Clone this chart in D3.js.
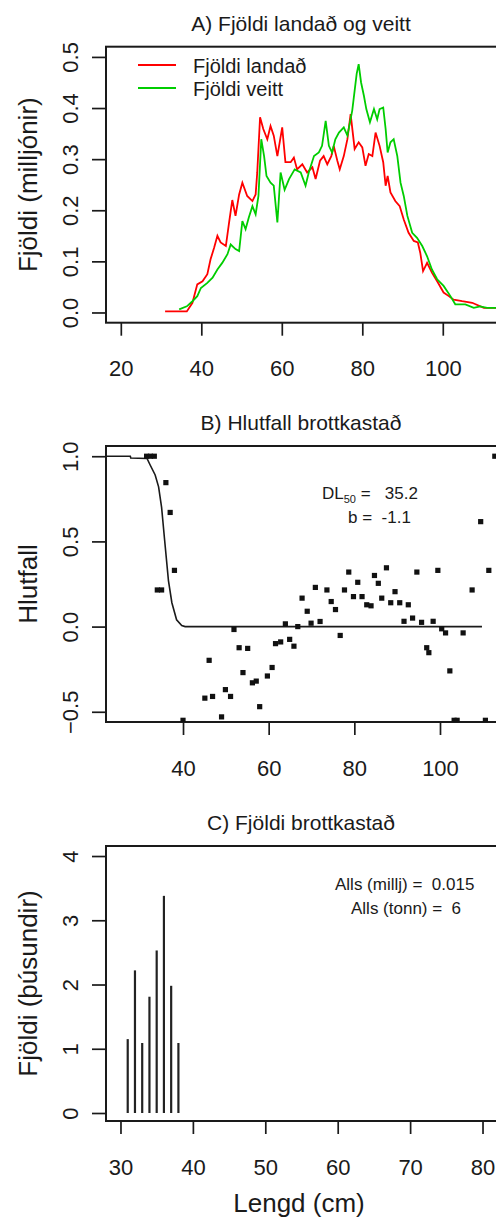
<!DOCTYPE html>
<html><head><meta charset="utf-8">
<script src="https://cdn.jsdelivr.net/npm/d3@7"></script>
<style>
html,body{margin:0;padding:0;background:#fff;}
svg{display:block;font-family:"Liberation Sans",Arial,sans-serif;}
</style></head>
<body>
<script>
// ---------- DATA ----------
// Panel A: Fjöldi landað (red) and Fjöldi veitt (green), millions, by length (cm)
const landadLengd = [31,36.4,37.8,39,40.3,41.5,42.3,43.2,44,44.8,46.1,46.9,47.7,48.5,49.4,50.2,51.4,52.7,53.5,53.9,54.6,55.4,56.4,57.2,58,58.9,60.1,60.9,62.2,63,63.8,65.1,66.3,67.6,68.4,69.5,70.4,71.3,72.3,72.9,73.8,74.4,75.4,76.3,77.1,78.1,79.1,80,80.8,81.6,82.5,83.3,84.3,85.2,85.8,86.3,87,88.2,89.3,90.3,91.5,92.8,93.8,94.4,95.1,96.1,97.3,98.6,100.2,101.5,102.7,104.8,107.3,110.2,113.4];
const landadFjoldi = [0.002,0.002,0.019,0.055,0.061,0.075,0.104,0.127,0.15,0.137,0.13,0.176,0.22,0.189,0.231,0.254,0.228,0.218,0.231,0.274,0.382,0.359,0.339,0.365,0.346,0.306,0.362,0.294,0.294,0.303,0.28,0.29,0.274,0.284,0.261,0.297,0.306,0.29,0.306,0.326,0.297,0.28,0.306,0.339,0.388,0.32,0.333,0.323,0.287,0.31,0.306,0.352,0.326,0.294,0.248,0.267,0.235,0.218,0.208,0.182,0.156,0.14,0.137,0.117,0.081,0.097,0.078,0.061,0.039,0.032,0.025,0.022,0.019,0.009,0.009];
const veittLengd = [34.5,36.4,37.8,39,39.9,41.5,42.8,44,45.2,46.5,47.3,48.5,49.4,50.2,51,51.8,52.7,53.5,54.2,54.9,55.6,56.2,57.2,58,58.9,59.7,60.7,61.8,63.2,64.7,65.9,66.7,68,69.2,70,70.9,71.7,72.5,73.3,74.2,75.4,76.3,77.5,78.6,79.1,79.7,80.4,81,81.9,82.9,83.7,84.3,85.2,85.8,86.3,87,87.8,88.7,89.5,90.3,91.2,92.4,93.6,94.9,96.1,97.3,98.6,100.2,101.9,103.1,105.6,107.7,109.3,111,113.4];
const veittFjoldi = [0.006,0.012,0.022,0.032,0.048,0.058,0.068,0.084,0.097,0.114,0.133,0.124,0.12,0.179,0.163,0.186,0.208,0.192,0.228,0.339,0.306,0.267,0.254,0.248,0.176,0.274,0.24,0.261,0.28,0.274,0.248,0.274,0.306,0.313,0.326,0.375,0.326,0.313,0.339,0.352,0.362,0.346,0.395,0.467,0.486,0.45,0.424,0.398,0.372,0.398,0.378,0.398,0.401,0.359,0.313,0.333,0.339,0.306,0.254,0.228,0.189,0.156,0.146,0.13,0.11,0.084,0.065,0.052,0.032,0.016,0.016,0.009,0.012,0.009,0.009];
const seriesNames = ["Fjöldi landað","Fjöldi veitt"];
const seriesColors = ["#ff0000","#00cd00"];

// Panel B: Hlutfall brottkastað (points) and fitted curve
const hlutLengd = [31.5,32.4,33.3,34,35,36,37,38,40,45.1,46.1,46.9,49,49.9,51.1,51.9,53.1,54,55.1,56.2,57.1,57.9,59.7,60.8,61.6,62.8,63.9,64.9,65.9,66.8,67.8,69,69.9,70.9,72,73.6,74.6,75.6,76.7,77.7,78.7,79.8,80.8,81.8,82.9,83.9,84.7,85.6,86.4,87.5,88.5,89.5,90.6,91.6,92.6,93.6,94.6,95.7,96.9,97.4,98.4,99.5,100.4,101.3,102.3,103.3,104,105.4,107.5,109.5,110.6,111.4,112.8];
const hlutfall = [1,1,1,0.215,0.215,0.845,0.67,0.33,-0.55,-0.42,-0.198,-0.41,-0.53,-0.37,-0.41,-0.017,-0.124,-0.27,-0.128,-0.33,-0.32,-0.47,-0.29,-0.24,-0.1,-0.09,0.016,-0.075,-0.115,0,0.167,0.09,0.02,0.23,0.03,0.215,0.147,0.1,-0.052,0.215,0.32,0.176,0.26,0.176,0.128,0.122,0.3,0.254,0.167,0.345,0.14,0.205,0.14,0.031,0.128,0.05,0.32,0.025,-0.124,-0.153,0.031,0.33,-0.013,-0.037,-0.26,-0.55,-0.55,-0.037,0.215,0.616,-0.55,0.33,1];
const ferillLengd = [22.1,27.7,27.8,31.6,32.3,33.5,34.3,35.0,35.7,36.6,37.4,38.5,39.7,40.5,109.8];
const ferillHlutfall = [1,1,0.99,0.987,0.95,0.89,0.82,0.70,0.51,0.27,0.14,0.04,0.006,0,0];
const dl50 = "35.2", bParam = "-1.1";

// Panel C: Fjöldi brottkastað (thousands)
const brottLengd = [31,32,33,34,35,36,37,38];
const brottFjoldi = [1.15,2.22,1.09,1.81,2.53,3.38,1.98,1.09];
const allsMillj = "0.015", allsTonn = "6";

// ticks
const ticksAx = [20,40,60,80,100], ticksAy = [0,0.1,0.2,0.3,0.4,0.5];
const ticksBx = [40,60,80,100], ticksBy = [-0.5,0,0.5,1];
const ticksCx = [30,40,50,60,70,80], ticksCy = [0,1,2,3,4];

// ---------- LAYOUT ----------
const W = 496, H = 1220;
const L = 106, R = 497;
const txt = "#1a1a1a";
const svg = d3.select("body").append("svg").attr("width", W).attr("height", H);

function panel(id, top, bottom, xDom, yDom, xt, yt, yFmt, title, ylab) {
  const x = d3.scaleLinear().domain(xDom).range([L, R]);
  const y = d3.scaleLinear().domain(yDom).range([bottom, top]);
  const g = svg.append("g");
  svg.append("clipPath").attr("id", "clip" + id)
    .append("rect").attr("x", L).attr("y", top).attr("width", R - L).attr("height", bottom - top);
  // x axis
  const ax = g.append("g").attr("transform", `translate(0,${bottom})`)
    .call(d3.axisBottom(x).tickValues(xt).tickSize(13).tickSizeOuter(0).tickPadding(25));
  ax.select(".domain").remove();
  ax.selectAll("line").attr("stroke", txt).attr("stroke-width", 1.7);
  ax.selectAll("text").attr("font-size", 22).attr("fill", txt).attr("font-family", "Liberation Sans, Arial, sans-serif");
  // y axis
  const ay = g.append("g").attr("transform", `translate(${L},0)`)
    .call(d3.axisLeft(y).tickValues(yt).tickSize(14).tickSizeOuter(0).tickFormat(yFmt));
  ay.select(".domain").remove();
  ay.selectAll("line").attr("stroke", txt).attr("stroke-width", 1.7);
  ay.selectAll("text").attr("x", null).attr("dy", null)
    .attr("text-anchor", "middle").attr("transform", "translate(-28,0) rotate(-90)")
    .attr("font-size", 22).attr("fill", txt).attr("font-family", "Liberation Sans, Arial, sans-serif");
  // box
  g.append("rect").attr("x", L).attr("y", top).attr("width", R - L).attr("height", bottom - top)
    .attr("fill", "none").attr("stroke", txt).attr("stroke-width", 2);
  // title
  svg.append("text").attr("x", 301).attr("y", top - 16).attr("text-anchor", "middle")
    .attr("font-size", 21).attr("fill", txt).text(title);
  // y label
  svg.append("text").attr("transform", `translate(37,${(top + bottom) / 2}) rotate(-90)`)
    .attr("text-anchor", "middle").attr("font-size", 26).attr("fill", txt).text(ylab);
  return {x, y, clip: `url(#clip${id})`};
}

// ----- Panel A -----
const A = panel("A", 46.7, 322.7, [16.32, 113.47], [-0.02, 0.52], ticksAx, ticksAy, d3.format(".1f"),
  "A) Fjöldi landað og veitt", "Fjöldi (milljónir)");
const lineA = d3.line().x(d => A.x(d[0])).y(d => A.y(d[1]));
const seriesA = [d3.zip(landadLengd, landadFjoldi), d3.zip(veittLengd, veittFjoldi)];
svg.append("g").attr("clip-path", A.clip).selectAll("path").data(seriesA).join("path")
  .attr("d", lineA).attr("fill", "none").attr("stroke", (d, i) => seriesColors[i])
  .attr("stroke-width", 1.8).attr("stroke-linejoin", "miter");
// legend
const leg = svg.append("g");
seriesNames.forEach((n, i) => {
  const yy = 65 + i * 23;
  leg.append("line").attr("x1", 138).attr("x2", 176).attr("y1", yy).attr("y2", yy)
    .attr("stroke", seriesColors[i]).attr("stroke-width", 2);
  leg.append("text").attr("x", 193).attr("y", yy + 8).attr("font-size", 20).attr("fill", txt).text(n);
});

// ----- Panel B -----
const B = panel("B", 446, 722, [22.02, 113.31], [-0.56, 1.06], ticksBx, ticksBy, d3.format(".1f"),
  "B) Hlutfall brottkastað", "Hlutfall");
const gB = svg.append("g").attr("clip-path", B.clip);
gB.append("path").datum(d3.zip(ferillLengd, ferillHlutfall))
  .attr("d", d3.line().x(d => B.x(d[0])).y(d => B.y(d[1])))
  .attr("fill", "none").attr("stroke", txt).attr("stroke-width", 1.6);
gB.selectAll("rect.pt").data(d3.zip(hlutLengd, hlutfall)).join("rect").attr("class", "pt")
  .attr("x", d => B.x(d[0]) - 2.6).attr("y", d => B.y(d[1]) - 2.6)
  .attr("width", 5.2).attr("height", 5.2).attr("fill", "#111");
const t1 = svg.append("text").attr("x", 322).attr("y", 499).attr("font-size", 17).attr("fill", txt);
t1.append("tspan").text("DL");
t1.append("tspan").attr("font-size", 11).attr("dy", 4).text("50");
t1.append("tspan").attr("dy", -4).attr("xml:space", "preserve").text(" =   " + dl50);
svg.append("text").attr("x", 348).attr("y", 523).attr("font-size", 17).attr("fill", txt)
  .attr("xml:space", "preserve").text("b =  " + bParam);

// ----- Panel C -----
const C = panel("C", 846, 1121, [28, 82], [-0.1245, 4.156], ticksCx, ticksCy, d3.format("d"),
  "C) Fjöldi brottkastað", "Fjöldi (þúsundir)");
svg.append("g").selectAll("line").data(d3.zip(brottLengd, brottFjoldi)).join("line")
  .attr("x1", d => C.x(d[0])).attr("x2", d => C.x(d[0]))
  .attr("y1", C.y(0)).attr("y2", d => C.y(d[1]))
  .attr("stroke", "#222").attr("stroke-width", 2.2);
svg.append("text").attr("x", 335).attr("y", 890).attr("font-size", 17).attr("fill", txt)
  .attr("xml:space", "preserve").text("Alls (millj) =  " + allsMillj);
svg.append("text").attr("x", 351).attr("y", 914).attr("font-size", 17).attr("fill", txt)
  .attr("xml:space", "preserve").text("Alls (tonn) =  " + allsTonn);
svg.append("text").attr("x", 299).attr("y", 1212).attr("text-anchor", "middle")
  .attr("font-size", 26).attr("fill", txt).text("Lengd (cm)");
</script>
</body></html>
